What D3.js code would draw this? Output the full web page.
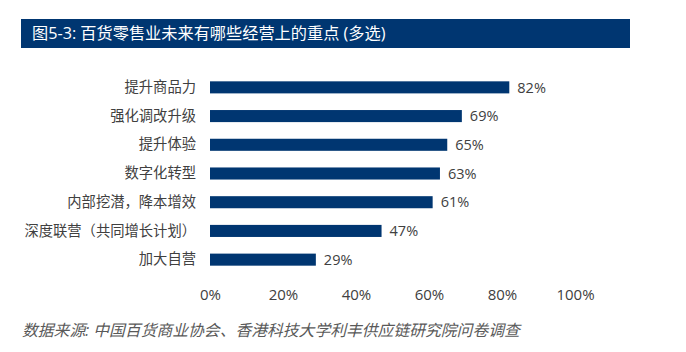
<!DOCTYPE html>
<html><head><meta charset="utf-8">
<script src="https://cdn.jsdelivr.net/npm/d3@7"></script>
<style>body{margin:0;background:#fff;} svg{display:block;}</style>
</head><body>
<svg id="c" width="686" height="352"></svg>
<script>
const categories = ["提升商品力","强化调改升级","提升体验","数字化转型","内部挖潜，降本增效","深度联营（共同增长计划）","加大自营"];
const values = [82,69,65,63,61,47,29];
const ticks = [0,20,40,60,80,100];
const title = "图5-3: 百货零售业未来有哪些经营上的重点 (多选)";
const source = "数据来源: 中国百货商业协会、香港科技大学利丰供应链研究院问卷调查";

const svg = d3.select("#c");
const font = "'Open Sans','Noto Sans CJK SC',sans-serif";
const navy = "#003671";

svg.append("rect").attr("x",21).attr("y",19).attr("width",609).attr("height",29).attr("fill",navy);
svg.append("text").attr("x",32).attr("y",39).attr("fill","#fff").attr("font-size",16.2).attr("font-family",font).text(title);

const x = d3.scaleLinear().domain([0,100]).range([210,575]);
const y = d3.scaleBand().domain(categories).range([73,274]).paddingInner(0.58).paddingOuter(0.29);

svg.selectAll("rect.bar").data(values).join("rect").attr("class","bar")
  .attr("x",x(0)).attr("y",(d,i)=>y(categories[i]))
  .attr("width",d=>x(d)-x(0)).attr("height",y.bandwidth()).attr("fill",navy);

svg.selectAll("text.val").data(values).join("text").attr("class","val")
  .attr("x",d=>x(d)+8).attr("y",(d,i)=>y(categories[i])+y.bandwidth()/2)
  .attr("dy","0.36em").attr("font-size",14.5).attr("font-family",font).attr("fill","#404040")
  .text(d=>d+"%");

const yAxis = d3.axisLeft(y).tickSize(0).tickPadding(14);
const ga = svg.append("g").attr("transform",`translate(${x(0)},0)`).call(yAxis);
ga.select(".domain").remove();
ga.selectAll("text").attr("font-size",14.3).attr("font-family",font).attr("fill","#404040");

const xAxis = d3.axisBottom(x).tickValues(ticks).tickSize(0).tickPadding(0).tickFormat(d=>d+"%");
const gx = svg.append("g").attr("transform","translate(0,289)").call(xAxis);
gx.select(".domain").remove();
gx.selectAll("text").attr("font-size",15).attr("font-family",font).attr("fill","#404040");

svg.append("text").attr("x",22).attr("y",336).attr("font-size",15.8).attr("font-style","italic")
  .attr("font-family",font).attr("fill","#595959").text(source);
</script>
</body></html>
